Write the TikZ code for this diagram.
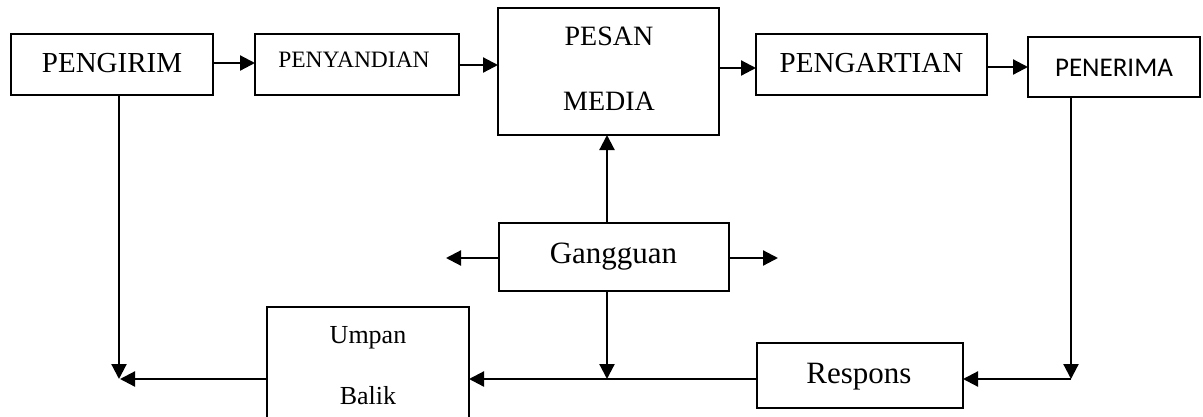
\documentclass[tikz,border=0pt]{standalone}
\usepackage{fontspec}
\setmainfont{Liberation Serif}
\newfontfamily\calib{Carlito}
\usetikzlibrary{arrows.meta}
\tikzset{
  box/.style={draw, rectangle, line width=2pt, inner sep=0pt, outer sep=0pt},
  lbl/.style={anchor=base, inner sep=0pt, outer sep=0pt},
  arr/.style={line width=2.2pt, -{Triangle[length=15pt,width=15pt]}},
  ln/.style={line width=2.2pt}
}
\begin{document}
\begin{tikzpicture}[x=1pt,y=-1pt]
\useasboundingbox (0,0) rectangle (1203,416);
% boxes
\node[box, minimum width=202pt, minimum height=61pt] (pengirim) at (112,64.5) {};
\node[box, minimum width=204pt, minimum height=61pt] (penyandian) at (357,64.5) {};
\node[box, minimum width=221pt, minimum height=127pt] (pesan) at (608.5,71.5) {};
\node[box, minimum width=231pt, minimum height=61pt] (pengartian) at (871.5,64.5) {};
\node[box, minimum width=172pt, minimum height=60pt] (penerima) at (1114,67) {};
\node[box, minimum width=230pt, minimum height=68pt] (gangguan) at (614,257) {};
\node[box, minimum width=206pt, minimum height=65pt] (respons) at (860,375.5) {};
\node[box, minimum width=202pt, minimum height=118pt] (umpan) at (368,366) {};
% texts
\node[lbl, font=\fontsize{29}{29}\selectfont] (tpengirim) at (112,72) {PENGIRIM};
\node[lbl, font=\fontsize{23.5}{23.5}\selectfont] (tpenyandian) at (354,67) {PENYANDIAN};
\node[lbl, font=\fontsize{28}{28}\selectfont] (tpesan) at (609,45) {PESAN};
\node[lbl, font=\fontsize{28}{28}\selectfont] (tmedia) at (609,110) {MEDIA};
\node[lbl, font=\fontsize{29}{29}\selectfont] (tpengartian) at (871.5,72) {PENGARTIAN};
\node[lbl, font=\calib\fontsize{27}{27}\selectfont] (tpenerima) at (1114,76) {PENERIMA};
\node[lbl, font=\fontsize{31}{31}\selectfont] (tgangguan) at (613.5,263) {Gangguan};
\node[lbl, font=\fontsize{26}{26}\selectfont] (tumpan) at (368,343) {Umpan};
\node[lbl, font=\fontsize{26}{26}\selectfont] (tbalik) at (368,404) {Balik};
\node[lbl, font=\fontsize{31}{31}\selectfont] (trespons) at (859,383) {Respons};
% free ends
\coordinate (gl) at (446,258);
\coordinate (gr) at (778,258);
\coordinate (cornerR) at (1071,379);
\coordinate (cornerL) at (120,379);
\coordinate (cornerL2) at (119,379);
\coordinate (gdown) at (607,379);
% top row arrows
\draw[arr] (pengirim.east |- 0,63) -- (penyandian.west |- 0,63);
\draw[arr] (penyandian.east |- 0,65) -- (pesan.west |- 0,65);
\draw[arr] (pesan.east |- 0,68) -- (pengartian.west |- 0,68);
\draw[arr] (pengartian.east |- 0,67) -- (penerima.west |- 0,67);
% gangguan
\draw[arr] (gangguan.north -| gdown) -- (pesan.south -| gdown);
\draw[arr] (gangguan.west |- gl) -- (gl);
\draw[arr] (gangguan.east |- gr) -- (gr);
\draw[arr] (gangguan.south -| gdown) -- (gdown);
% right loop
\draw[arr] (penerima.south -| cornerR) -- (cornerR);
\draw[arr] (cornerR) -- (respons.east |- cornerR);
\draw[arr] (respons.west |- cornerR) -- (umpan.east |- cornerR);
\draw[arr] (umpan.west |- cornerL) -- (cornerL);
\draw[arr] (pengirim.south -| cornerL2) -- (cornerL2);
\end{tikzpicture}
\end{document}
